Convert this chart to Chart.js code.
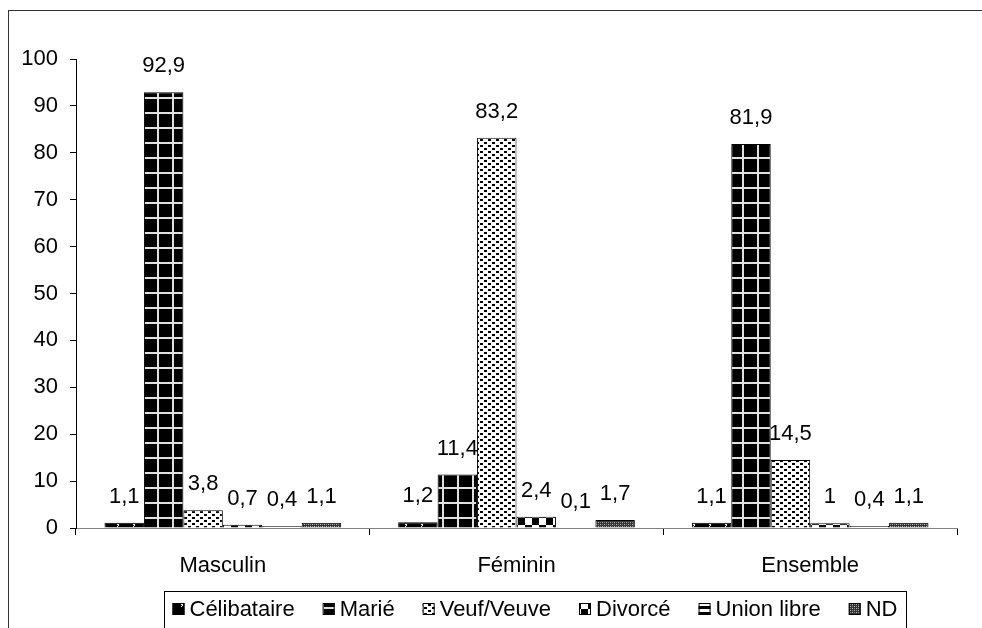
<!DOCTYPE html>
<html lang="fr">
<head>
  <meta charset="UTF-8">
  <title>Etat matrimonial</title>
  <style>
    html, body {
      margin: 0;
      padding: 0;
      overflow: hidden;
      background: white;
    }
    #wrap {
      position: relative;
      width: 982px;
      height: 628px;
    }
    #frame {
      position: absolute;
      left: 8px;
      top: 10px;
      width: 1000px;
      height: 700px;
      border: 1px solid #333;
    }
    #chart {
      position: absolute;
      left: 0;
      top: 0;
    }
  </style>
</head>
<body>
  <div id="wrap">
    <div id="frame"></div>
    <canvas id="chart" width="982" height="628"></canvas>
  </div>

  <script src="https://cdn.jsdelivr.net/npm/chart.js"></script>
  <script>
    const categories = ['Masculin', 'Féminin', 'Ensemble'];
    const seriesNames = ['Célibataire', 'Marié', 'Veuf/Veuve', 'Divorcé', 'Union libre', 'ND'];
    const celibataire = [1.1, 1.2, 1.1];
    const marie = [92.9, 11.4, 81.9];
    const veuf = [3.8, 83.2, 14.5];
    const divorce = [0.7, 2.4, 1];
    const unionLibre = [0.4, 0.1, 0.4];
    const nd = [1.1, 1.7, 1.1];
    const yTicks = [0, 10, 20, 30, 40, 50, 60, 70, 80, 90, 100];

    const FONT = '"Liberation Sans", Arial, sans-serif';
    const FSIZE = 22;

    // little canvas tiles used as bar fills
    function makePattern(w, h, draw) {
      const c = document.createElement('canvas');
      c.width = w; c.height = h;
      const g = c.getContext('2d');
      draw(g);
      return g.createPattern(c, 'repeat');
    }

    const patterns = [
      makePattern(16, 10, g => {
        g.fillStyle = '#000'; g.fillRect(0, 0, 16, 10);
        g.fillStyle = '#fff'; g.fillRect(5, 4, 2, 1); g.fillRect(6, 5, 1, 1); g.fillRect(5, 6, 1, 1);
      }),
      makePattern(15, 15, g => {
        g.fillStyle = '#000'; g.fillRect(0, 0, 15, 15);
        g.fillStyle = '#e0e0e0'; g.fillRect(7, 0, 2, 15); g.fillRect(0, 7, 15, 2);
      }),
      makePattern(8, 6, g => {
        g.fillStyle = '#fff'; g.fillRect(0, 0, 8, 6);
        g.fillStyle = '#000'; g.fillRect(0, 1, 3, 2); g.fillRect(4, 4, 3, 2);
      }),
      makePattern(14, 14, g => {
        g.fillStyle = '#fff'; g.fillRect(0, 0, 14, 14);
        g.fillStyle = '#000'; g.fillRect(0, 0, 7, 7); g.fillRect(7, 7, 7, 7);
      }),
      makePattern(1, 6, g => {
        g.fillStyle = '#fff'; g.fillRect(0, 0, 1, 6);
        g.fillStyle = '#000'; g.fillRect(0, 0, 1, 3);
      }),
      makePattern(4, 4, g => {
        g.fillStyle = '#333'; g.fillRect(0, 0, 4, 4);
        g.fillStyle = '#bbb'; g.fillRect(0, 0, 1, 1); g.fillRect(2, 2, 1, 1);
        g.fillStyle = '#888'; g.fillRect(2, 0, 1, 1); g.fillRect(0, 2, 1, 1);
      })
    ];

    const values = [celibataire, marie, veuf, divorce, unionLibre, nd];

    // value above every bar, decimal comma
    const barLabels = {
      id: 'barLabels',
      afterDatasetsDraw(chart) {
        const ctx = chart.ctx;
        ctx.save();
        ctx.font = FSIZE + 'px ' + FONT;
        ctx.fillStyle = '#000';
        ctx.textAlign = 'center';
        ctx.textBaseline = 'middle';
        chart.data.datasets.forEach((ds, i) => {
          chart.getDatasetMeta(i).data.forEach((bar, j) => {
            const txt = String(ds.data[j]).replace('.', ',');
            ctx.fillText(txt, bar.x, bar.y - 26);
          });
        });
        ctx.restore();
      }
    };

    // boxed legend under the axis
    const boxLegend = {
      id: 'boxLegend',
      afterDraw(chart) {
        const ctx = chart.ctx;
        const left = 164, right = 906, top = 591;
        ctx.save();
        ctx.strokeStyle = '#000';
        ctx.lineWidth = 1;
        ctx.strokeRect(left + 0.5, top + 0.5, right - left, 60);
        ctx.font = FSIZE + 'px ' + FONT;
        ctx.textBaseline = 'middle';
        const box = 12, gapIn = 5, gapOut = 28;
        const widths = chart.data.datasets.map(ds => box + gapIn + ctx.measureText(ds.label).width);
        const total = widths.reduce((a, b) => a + b, 0) + gapOut * (widths.length - 1);
        let x = (left + right) / 2 - total / 2;
        const cy = 609;
        chart.data.datasets.forEach((ds, i) => {
          ctx.fillStyle = ds.backgroundColor;
          ctx.fillRect(x, cy - box / 2, box, box);
          ctx.strokeStyle = '#000';
          ctx.strokeRect(x + 0.5, cy - box / 2 + 0.5, box - 1, box - 1);
          ctx.fillStyle = '#000';
          ctx.fillText(ds.label, x + box + gapIn, cy + 1);
          x += widths[i] + gapOut;
        });
        ctx.restore();
      }
    };

    new Chart(document.getElementById('chart'), {
      type: 'bar',
      data: {
        labels: categories,
        datasets: seriesNames.map((name, i) => ({
          label: name,
          data: values[i],
          backgroundColor: patterns[i],
          borderColor: '#000',
          borderWidth: 1,
          categoryPercentage: 0.806,
          barPercentage: 1.0
        }))
      },
      options: {
        responsive: false,
        animation: false,
        layout: { padding: { left: 0, top: 59, right: 25, bottom: 0 } },
        plugins: {
          legend: { display: false },
          tooltip: { enabled: false }
        },
        scales: {
          x: {
            grid: { offset: true, drawOnChartArea: false, tickLength: 7, color: '#000' },
            border: { color: '#808080', width: 1 },
            ticks: { color: '#000', padding: 18, font: { family: FONT, size: FSIZE } },
            afterFit(scale) { scale.height = 100; }
          },
          y: {
            min: 0,
            max: 100,
            afterBuildTicks(scale) { scale.ticks = yTicks.map(v => ({ value: v })); },
            grid: { drawOnChartArea: false, tickLength: 6, color: '#000' },
            border: { color: '#000', width: 1 },
            ticks: { color: '#000', padding: 12, font: { family: FONT, size: FSIZE } },
            afterFit(scale) { scale.width = 76; }
          }
        }
      },
      plugins: [barLabels, boxLegend]
    });
  </script>
</body>
</html>
